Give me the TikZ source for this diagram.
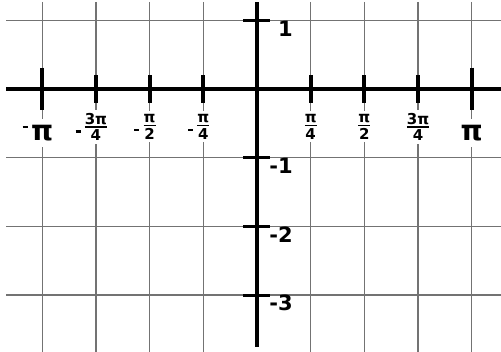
\documentclass[tikz,border=0pt]{standalone}
\usepackage{fontspec}
\setmainfont{DejaVu Sans}
% fraction of pi, with a short dash in front for the negative ones
\newcommand{\pifrac}[2]{$\mbox{#1}\above1.8pt\mbox{#2}$}
\newcommand{\negdash}[2]{\llap{\rule[#1]{5pt}{2.5pt}\hspace{#2}}}
\begin{document}
\begin{tikzpicture}[x=53.7pt,y=68.7pt]
      \tikzstyle{gridline} = [draw=black!55, line width=1.3pt]
      \tikzstyle{axis} = [line width=4.5pt]
      \tikzstyle{xtick} = [line width=4pt]
      \tikzstyle{ytick} = [line width=3pt]
      \tikzstyle{fraclabel} = [fill=white, inner xsep=1pt, inner ysep=3pt, font=\bfseries\fontsize{15}{15}\selectfont]
      \tikzstyle{pilabel} = [fill=white, inner xsep=1pt, inner ysep=6pt, font=\bfseries\fontsize{28}{28}\selectfont]
      \tikzstyle{ylabel} = [anchor=north east, inner sep=0pt, font=\bfseries\fontsize{21}{21}\selectfont]

      \useasboundingbox (-4.786,1.2955) rectangle (4.544,-3.828);

      % grid
      \foreach \x in {-4,-3,-2,-1,1,2,3,4}
        \draw[gridline] (\x,1.27) -- (\x,-3.828);
      \foreach \y in {1,-1,-2,-3}
        \draw[gridline] (-4.67,\y) -- (4.544,\y);

      % labels on the x axis
      \node (mpi) [pilabel] at (-4,-0.64) {\negdash{12pt}{3.5pt}π};
      \node (m3pi4) [fraclabel] at (-3,-0.55) {\negdash{-2pt}{3pt}\pifrac{3π}{4}};
      \node (mpi2) [fraclabel] at (-2,-0.55) {\negdash{-2pt}{3pt}\pifrac{π}{2}};
      \node (mpi4) [fraclabel] at (-1,-0.55) {\negdash{-2pt}{3pt}\pifrac{π}{4}};
      \node (pi4) [fraclabel] at (1,-0.55) {\pifrac{π}{4}};
      \node (pi2) [fraclabel] at (2,-0.55) {\pifrac{π}{2}};
      \node (3pi4) [fraclabel] at (3,-0.55) {\pifrac{3π}{4}};
      \node (pi) [pilabel] at (4,-0.64) {π};

      % axes
      \draw[axis] (-4.67,0) -- (4.544,0);
      \draw[axis, line width=4pt] (0,1.266) -- (0,-3.755);

      % ticks
      \draw[xtick] (-4,0.31) -- (-4,-0.31);
      \draw[xtick] (4,0.31) -- (4,-0.31);
      \foreach \x in {-3,-2,-1,1,2,3}
        \draw[xtick] (\x,0.2) -- (\x,-0.2);
      \foreach \y in {1,-1,-2,-3}
        \draw[ytick] (-0.26,\y) -- (0.24,\y);

      % labels on the y axis
      \node (one) [ylabel] at (0.67,0.985) {1};
      \node (mone) [ylabel] at (0.67,-1.0) {-1};
      \node (mtwo) [ylabel] at (0.67,-2.0) {-2};
      \node (mthree) [ylabel] at (0.67,-3.0) {-3};
\end{tikzpicture}
\end{document}
